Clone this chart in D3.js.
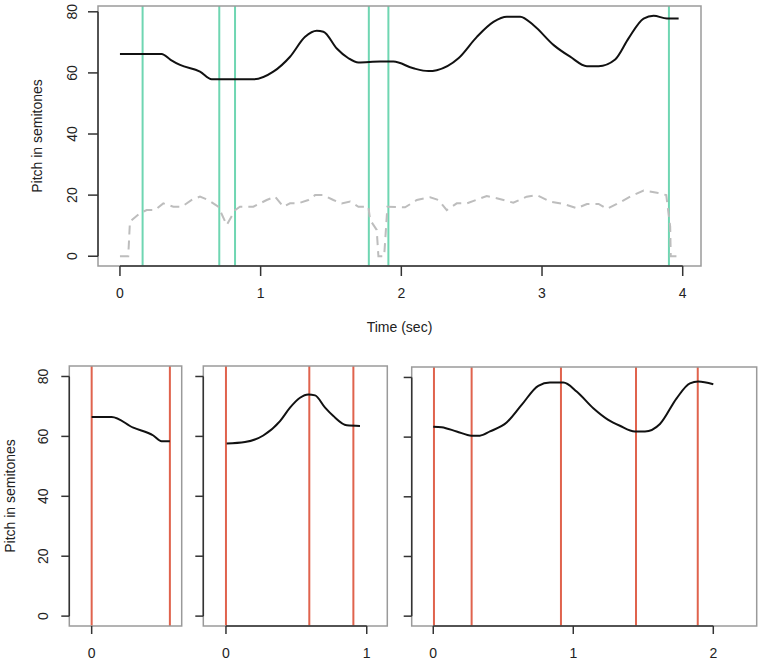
<!DOCTYPE html>
<html>
<head>
<meta charset="utf-8">
<script src="https://cdn.jsdelivr.net/npm/d3@7"></script>
<style>
	body { margin: 0; background: #fff; }
	text { font-family: "Liberation Sans", Arial, sans-serif; font-size: 14px; fill: #222; }
</style>
</head>
<body>
<div id="chart"></div>
<script>
// ---- data ----
// whole utterance: pitch contour
const fullTime  = [0, 0.296, 0.36, 0.427, 0.569, 0.652, 0.948, 1.09, 1.209, 1.316, 1.399, 1.446, 1.541, 1.624, 1.695, 1.85, 1.944, 2.086, 2.193, 2.252, 2.406, 2.537, 2.655, 2.75, 2.845, 2.94, 3.083, 3.2, 3.319, 3.402, 3.52, 3.615, 3.722, 3.793, 3.888, 3.971];
const fullPitch = [66.2, 66.2, 64.3, 62.6, 60.4, 57.9, 57.9, 60.4, 65.3, 71.8, 73.8, 73.5, 68.0, 64.8, 63.4, 63.7, 63.7, 61.5, 60.6, 60.9, 64.8, 71.8, 76.7, 78.4, 78.4, 75.6, 69.1, 65.3, 62.2, 62.2, 64.4, 71.3, 77.8, 78.7, 77.8, 77.8];

// whole utterance: intensity (dashed)
const intTime  = [0, 0.059, 0.071, 0.142, 0.19, 0.249, 0.308, 0.38, 0.439, 0.51, 0.569, 0.628, 0.699, 0.759, 0.818, 0.853, 0.948, 1.043, 1.102, 1.161, 1.209, 1.268, 1.339, 1.387, 1.446, 1.517, 1.576, 1.636, 1.695, 1.766, 1.778, 1.825, 1.837, 1.878, 1.901, 2.027, 2.11, 2.205, 2.264, 2.323, 2.394, 2.465, 2.607, 2.678, 2.796, 2.891, 2.962, 3.058, 3.152, 3.247, 3.319, 3.402, 3.461, 3.532, 3.627, 3.722, 3.817, 3.883, 3.911, 3.915, 3.971];
const intValue = [0, 0, 11.3, 14.1, 15.1, 15.1, 17.3, 16.2, 16.2, 18.4, 19.5, 18.4, 16.2, 10.2, 15.1, 16.2, 16.2, 18.4, 19.5, 16.2, 17.3, 17.3, 18.4, 20.0, 20.0, 18.4, 17.3, 17.9, 16.2, 16.2, 11.9, 8.6, 0, 0, 16.2, 16.0, 18.4, 19.3, 18.4, 15.1, 17.3, 17.3, 19.7, 19.0, 17.5, 19.5, 20.0, 17.9, 17.1, 15.7, 17.1, 17.1, 15.5, 17.1, 19.5, 21.5, 20.8, 20.0, 9.7, 0, 0];

// phrase boundaries (green)
const fullBounds = [0.161, 0.706, 0.818, 1.769, 1.908, 3.902];

// segment 1
const seg1Time   = [0, 0.142, 0.296, 0.438, 0.497, 0.556];
const seg1Pitch  = [66.5, 66.5, 62.9, 60.3, 58.4, 58.4];
const seg1Bounds = [0, 0.556];

// segment 2
const seg2Time   = [0.005, 0.135, 0.265, 0.384, 0.455, 0.526, 0.585, 0.633, 0.704, 0.763, 0.858, 0.952];
const seg2Pitch  = [57.6, 58.1, 60.3, 65.1, 69.6, 72.9, 74.0, 73.7, 69.6, 66.8, 63.7, 63.5];
const seg2Bounds = [0, 0.592, 0.905];

// segment 3
const seg3Time   = [0, 0.06, 0.167, 0.274, 0.333, 0.405, 0.524, 0.631, 0.75, 0.833, 0.929, 1.024, 1.143, 1.25, 1.333, 1.44, 1.512, 1.619, 1.738, 1.833, 1.893, 2.0];
const seg3Pitch  = [63.5, 63.3, 61.9, 60.5, 60.5, 61.9, 64.9, 70.8, 77.2, 78.3, 78.3, 75.3, 69.7, 65.8, 63.8, 61.9, 61.9, 64.4, 73.0, 78.0, 78.6, 77.7];
const seg3Bounds = [0.005, 0.274, 0.912, 1.448, 1.889];

const yTicks = [0, 20, 40, 60, 80];
const yTitle = "Pitch in semitones";
const xTitle = "Time (sec)";

const W = 765, H = 662;
let svg = d3.select("#chart").append("svg")
	.attr("width", W)
	.attr("height", H);

// draws one R-style plot panel
function pitchPanel(p) {
	let x = d3.scaleLinear().domain(p.xDomain).range([p.left, p.right]);
	let y = d3.scaleLinear().domain(p.yDomain).range([p.bottom, p.top]);
	const g = svg.append("g");
	const tick = p.tickLen || 10;

	// boundary lines
	g.selectAll(".bound")
		.data(p.bounds).enter()
		.append("line")
		.attr("x1", d => x(d)).attr("x2", d => x(d))
		.attr("y1", p.top).attr("y2", p.bottom)
		.attr("stroke", p.boundColor)
		.attr("stroke-width", 2);

	// intensity
	if (p.intTime) {
		let pts = p.intTime.map((t, i) => [t, p.intValue[i]]);
		g.append("path")
			.attr("d", d3.line().x(d => x(d[0])).y(d => y(d[1]))(pts))
			.attr("fill", "none")
			.attr("stroke", "#bdbdbd")
			.attr("stroke-width", 2)
			.attr("stroke-dasharray", "9,6");
	}

	// pitch
	let pts = p.time.map((t, i) => [t, p.pitch[i]]);
	g.append("path")
		.attr("d", d3.line().curve(d3.curveMonotoneX).x(d => x(d[0])).y(d => y(d[1]))(pts))
		.attr("fill", "none")
		.attr("stroke", "#111")
		.attr("stroke-width", 2);

	// box
	g.append("rect")
		.attr("x", p.left).attr("y", p.top)
		.attr("width", p.right - p.left).attr("height", p.bottom - p.top)
		.attr("fill", "none")
		.attr("stroke", "#9a9a9a")
		.attr("stroke-width", 1.5);

	// Y axis
	let yAx = g.append("g").attr("transform", "translate(" + p.left + ",0)");
	yAx.append("line")
		.attr("x1", 0).attr("x2", 0)
		.attr("y1", y(d3.min(yTicks))).attr("y2", y(d3.max(yTicks)))
		.attr("stroke", "#333").attr("stroke-width", 1.5);
	yAx.selectAll(".yt").data(yTicks).enter()
		.append("line")
		.attr("x1", 0).attr("x2", -tick)
		.attr("y1", d => y(d)).attr("y2", d => y(d))
		.attr("stroke", "#333").attr("stroke-width", 1.5);
	if (p.yLabels) {
		yAx.selectAll(".yl").data(yTicks).enter()
			.append("text")
			.attr("transform", d => "translate(-26," + y(d) + ") rotate(-90)")
			.attr("text-anchor", "middle")
			.attr("dominant-baseline", "central")
			.text(d => d);
		g.append("text")
			.attr("transform", "translate(" + (p.left - p.yTitleOff) + "," + ((p.top + p.bottom) / 2) + ") rotate(-90)")
			.attr("text-anchor", "middle")
			.attr("dominant-baseline", "central")
			.text(yTitle);
	}

	// X axis
	let xAx = g.append("g").attr("transform", "translate(0," + p.bottom + ")");
	xAx.append("line")
		.attr("x1", x(d3.min(p.xTicks))).attr("x2", x(d3.max(p.xTicks)))
		.attr("y1", 0).attr("y2", 0)
		.attr("stroke", "#333").attr("stroke-width", 1.5);
	xAx.selectAll(".xt").data(p.xTicks).enter()
		.append("line")
		.attr("x1", d => x(d)).attr("x2", d => x(d))
		.attr("y1", 0).attr("y2", tick)
		.attr("stroke", "#333").attr("stroke-width", 1.5);
	xAx.selectAll(".xl").data(p.xTicks).enter()
		.append("text")
		.attr("x", d => x(d))
		.attr("y", 27)
		.attr("text-anchor", "middle")
		.attr("dominant-baseline", "central")
		.text(d => d);
	if (p.xTitle) {
		xAx.append("text")
			.attr("x", (p.left + p.right) / 2)
			.attr("y", 61)
			.attr("text-anchor", "middle")
			.attr("dominant-baseline", "central")
			.text(p.xTitle);
	}
	return { x_scale: x, y_scale: y };
}

// top: whole utterance
pitchPanel({
	left: 98, right: 701, top: 6, bottom: 266,
	xDomain: [-0.156, 4.13], yDomain: [-3.2, 81.9],
	xTicks: [0, 1, 2, 3, 4],
	time: fullTime, pitch: fullPitch,
	intTime: intTime, intValue: intValue,
	bounds: fullBounds, boundColor: "#6fd6b2",
	yLabels: true, yTitleOff: 61, xTitle: xTitle
});

// bottom: three segments
const redLine = "#e0634d";
const bottomY = [-3.3, 83.5];
pitchPanel({
	left: 69.3, right: 181.7, top: 366, bottom: 626,
	xDomain: [-0.159, 0.64], yDomain: bottomY,
	xTicks: [0], tickLen: 8,
	time: seg1Time, pitch: seg1Pitch,
	bounds: seg1Bounds, boundColor: redLine,
	yLabels: true, yTitleOff: 59
});
pitchPanel({
	left: 203.3, right: 387.3, top: 366, bottom: 626,
	xDomain: [-0.161, 1.146], yDomain: bottomY,
	xTicks: [0, 1], tickLen: 8,
	time: seg2Time, pitch: seg2Pitch,
	bounds: seg2Bounds, boundColor: redLine,
	yLabels: false
});
pitchPanel({
	left: 411.7, right: 756.7, top: 367, bottom: 626,
	xDomain: [-0.154, 2.31], yDomain: bottomY,
	xTicks: [0, 1, 2], tickLen: 8,
	time: seg3Time, pitch: seg3Pitch,
	bounds: seg3Bounds, boundColor: redLine,
	yLabels: false
});
</script>
</body>
</html>
